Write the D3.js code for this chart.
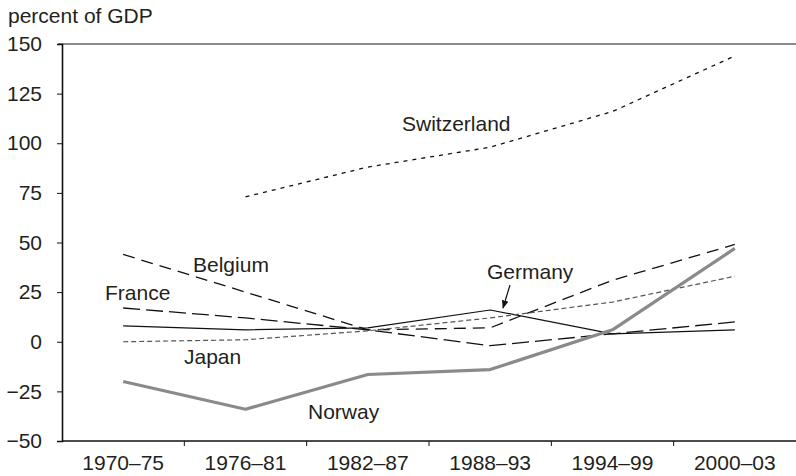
<!DOCTYPE html>
<html>
<head>
<meta charset="utf-8">
<script src="https://cdn.jsdelivr.net/npm/d3@7"></script>
<style>
  body { margin: 0; background: #fff; }
  svg text { font-family: "Liberation Sans", Arial, sans-serif; fill: #231f20; }
</style>
</head>
<body>
<svg id="chart" width="796" height="476"></svg>
<script>
// periods on the x axis
var periods = ["1970–75", "1976–81", "1982–87", "1988–93", "1994–99", "2000–03"];
var yTicks = [-50, -25, 0, 25, 50, 75, 100, 125, 150];

// values, percent of GDP
var switzerland = [null, 73, 88, 98, 116, 144];
var belgium     = [44, 25, 6, 7, 31, 49];
var france      = [17, 12, 6, -2, 4, 10];
var germany     = [8, 6, 7, 16, 4, 6];
var japan       = [0, 1, 5.5, 12, 20, 33];
var norway      = [-20, -34, -16.5, -14, 6, 47];

var series = [
    { name: "Switzerland", values: switzerland, color: "#111", width: 1.3, dash: "4,5" },
    { name: "Belgium", values: belgium, color: "#111", width: 1.3, dash: "12,7" },
    { name: "France", values: france, color: "#111", width: 1.3, dash: "17,6" },
    { name: "Germany", values: germany, color: "#111", width: 1.2, dash: null },
    { name: "Japan", values: japan, color: "#555", width: 1.2, dash: "5,3" },
    { name: "Norway", values: norway, color: "#8a8a8a", width: 3.2, dash: null }
];

var svg = d3.select("#chart");
var fs = 21;

var x = d3.scaleBand().domain(periods).range([62, 796]);
var y = d3.scaleLinear().domain([-50, 150]).range([441, 44]);

// top line at 150
svg.append("line")
    .attr("x1", 58).attr("x2", 796)
    .attr("y1", y(150)).attr("y2", y(150))
    .attr("stroke", "#666").attr("stroke-width", 1.3);

// y axis
var yAxis = svg.append("g")
    .attr("transform", "translate(62,0)")
    .call(d3.axisLeft(y).tickValues(yTicks).tickSize(5).tickPadding(15)
        .tickFormat(function (d) { return d < 0 ? "\u2212" + Math.abs(d) : d; }));
yAxis.select(".domain").attr("stroke", "#111").attr("stroke-width", 1.6);
yAxis.selectAll(".tick line").attr("stroke", "#111");
yAxis.selectAll("text").attr("font-size", fs).attr("fill", "#231f20")
    .attr("font-family", "Liberation Sans, Arial, sans-serif");

// x axis, ticks on the band edges
var xAxis = svg.append("g").attr("transform", "translate(0," + y(-50) + ")");
xAxis.append("line")
    .attr("x1", 62).attr("x2", 796)
    .attr("stroke", "#111").attr("stroke-width", 1.3);
var edges = periods.map(function (p) { return x(p); });
xAxis.selectAll("line.tk").data(edges.slice(1)).enter().append("line")
    .attr("class", "tk")
    .attr("x1", function (d) { return d; }).attr("x2", function (d) { return d; })
    .attr("y1", 0).attr("y2", 5)
    .attr("stroke", "#111").attr("stroke-width", 1);
xAxis.selectAll("text").data(periods).enter().append("text")
    .attr("x", function (d) { return x(d) + x.bandwidth() / 2; })
    .attr("y", 29)
    .attr("text-anchor", "middle")
    .attr("font-size", fs)
    .text(function (d) { return d; });

// lines
var line = d3.line()
    .defined(function (d) { return d.v != null; })
    .x(function (d) { return x(d.p) + x.bandwidth() / 2; })
    .y(function (d) { return y(d.v); });

series.forEach(function (s) {
    var pts = periods.map(function (p, i) { return { p: p, v: s.values[i] }; });
    svg.append("path")
        .datum(pts)
        .attr("d", line)
        .attr("fill", "none")
        .attr("stroke", s.color)
        .attr("stroke-width", s.width)
        .attr("stroke-dasharray", s.dash)
        .attr("stroke-linejoin", "round");
});

// labels
var labels = [
    { text: "percent of GDP", x: 8, y: 23 },
    { text: "Switzerland", x: 402, y: 131 },
    { text: "Belgium", x: 193, y: 272 },
    { text: "France", x: 105, y: 300 },
    { text: "Germany", x: 487, y: 279 },
    { text: "Japan", x: 184, y: 364 },
    { text: "Norway", x: 308, y: 419 }
];
svg.selectAll("text.lbl").data(labels).enter().append("text")
    .attr("class", "lbl")
    .attr("x", function (d) { return d.x; })
    .attr("y", function (d) { return d.y; })
    .attr("font-size", fs)
    .text(function (d) { return d.text; });

// arrow for Germany
svg.append("defs").append("marker")
    .attr("id", "arr").attr("viewBox", "0 0 10 10")
    .attr("refX", 9).attr("refY", 5)
    .attr("markerWidth", 7).attr("markerHeight", 7)
    .attr("orient", "auto")
    .append("path").attr("d", "M0,1L10,5L0,9z").attr("fill", "#111");
svg.append("line")
    .attr("x1", 510).attr("y1", 285)
    .attr("x2", 503).attr("y2", y(16) - 2)
    .attr("stroke", "#111").attr("stroke-width", 1.2)
    .attr("marker-end", "url(#arr)");
</script>
</body>
</html>
